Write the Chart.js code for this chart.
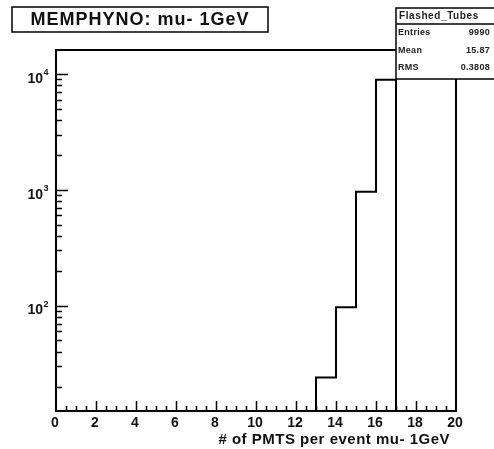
<!DOCTYPE html>
<html>
<head>
<meta charset="utf-8">
<title>Flashed_Tubes</title>
<script src="https://cdn.jsdelivr.net/npm/chart.js@4.4.0/dist/chart.umd.min.js"></script>
<style>
  html, body { margin: 0; padding: 0; background: #fff; }
  canvas { display: block; }
</style>
</head>
<body>
<canvas id="pmtChart" width="494" height="449"></canvas>
<script>
// 20 unit-width bins from 0 to 20
const binLow = [0, 1, 2, 3, 4, 5, 6, 7, 8, 9, 10, 11, 12, 13, 14, 15, 16, 17, 18, 19];
const binCounts = [0, 0, 0, 0, 0, 0, 0, 0, 0, 0, 0, 0, 0, 24, 97, 960, 8909, 0, 0, 0];
const xTickValues = [0, 2, 4, 6, 8, 10, 12, 14, 16, 18, 20];
const yDecades = [100, 1000, 10000];
const yExponents = ['2', '3', '4'];
const statNames = ['Entries', 'Mean', 'RMS'];
const statValues = ['9990', '15.87', '0.3808'];

const yMin = 12.3;
const yMax = 16100;
const FONT = '"Liberation Sans", Arial, Helvetica, sans-serif';

// step outline of the histogram, empty bins sit on the axis
const outline = binLow.map((x, i) => ({ x: x, y: Math.max(binCounts[i], yMin) }));
outline.push({ x: 20, y: outline[outline.length - 1].y });

const rootFrame = {
  id: 'rootFrame',
  afterDraw(chart) {
    const { ctx, chartArea: a, scales: { x, y } } = chart;
    ctx.save();
    ctx.strokeStyle = '#000';
    ctx.fillStyle = '#111';

    // frame
    ctx.lineWidth = 2;
    ctx.strokeRect(a.left, a.top, a.right - a.left, a.bottom - a.top);

    // x ticks every 0.5, long ones every 2
    ctx.lineWidth = 1.5;
    ctx.beginPath();
    for (let v = 0.5; v < 20; v += 0.5) {
      const px = Math.round(x.getPixelForValue(v)) + 0.5;
      const len = v % 2 === 0 ? 10 : 5;
      ctx.moveTo(px, a.bottom);
      ctx.lineTo(px, a.bottom - len);
    }
    // y ticks on the log scale
    [10, 100, 1000, 10000].forEach(d => {
      for (let k = 1; k <= 9; k++) {
        const v = k * d;
        if (v <= yMin || v >= yMax) continue;
        const py = Math.round(y.getPixelForValue(v)) + 0.5;
        const len = k === 1 ? 12 : 6;
        ctx.moveTo(a.left, py);
        ctx.lineTo(a.left + len, py);
      }
    });
    ctx.stroke();

    // x labels
    ctx.font = 'bold 14px ' + FONT;
    ctx.textAlign = 'center';
    ctx.textBaseline = 'middle';
    xTickValues.forEach(v => {
      ctx.fillText(String(v), x.getPixelForValue(v) - 1, a.bottom + 12);
    });

    // y labels: 10 with exponent
    yDecades.forEach((d, i) => {
      const py = y.getPixelForValue(d);
      ctx.font = 'bold 14px ' + FONT;
      ctx.textAlign = 'right';
      ctx.fillText('10', a.left - 13, py + 5);
      ctx.font = 'bold 9px ' + FONT;
      ctx.textAlign = 'left';
      ctx.fillText(yExponents[i], a.left - 12.5, py - 1);
    });

    // x axis title
    ctx.font = 'bold 15px ' + FONT;
    ctx.letterSpacing = '0.5px';
    ctx.textAlign = 'right';
    ctx.fillText('# of PMTS per event mu- 1GeV', a.right - 6, a.bottom + 29);

    // title box
    ctx.fillStyle = '#fff';
    ctx.fillRect(12, 7, 256, 25);
    ctx.lineWidth = 1.5;
    ctx.strokeRect(12, 7, 256, 25);
    ctx.fillStyle = '#111';
    ctx.font = 'bold 18px ' + FONT;
    ctx.letterSpacing = '1px';
    ctx.textAlign = 'center';
    ctx.fillText('MEMPHYNO: mu- 1GeV', 140, 20);

    // statistics box
    ctx.fillStyle = '#fff';
    ctx.fillRect(396, 8, 110, 71);
    ctx.strokeRect(396, 8, 110, 71);
    ctx.beginPath();
    ctx.moveTo(396, 24);
    ctx.lineTo(494, 24);
    ctx.stroke();
    ctx.fillStyle = '#222';
    ctx.font = 'bold 10px ' + FONT;
    ctx.letterSpacing = '0.6px';
    ctx.textAlign = 'left';
    ctx.fillText('Flashed_Tubes', 399, 16);
    ctx.font = 'bold 9px ' + FONT;
    ctx.letterSpacing = '0.3px';
    const rowY = [33, 51, 68];
    statNames.forEach((n, i) => {
      ctx.textAlign = 'left';
      ctx.fillText(n, 398, rowY[i]);
      ctx.textAlign = 'right';
      ctx.fillText(statValues[i], 490, rowY[i]);
    });
    ctx.restore();
  }
};

new Chart(document.getElementById('pmtChart'), {
  type: 'line',
  data: {
    datasets: [{
      label: 'Flashed_Tubes',
      data: outline,
      stepped: 'before',
      borderColor: '#000',
      borderWidth: 2,
      pointRadius: 0,
      fill: false
    }]
  },
  options: {
    responsive: false,
    animation: false,
    layout: { padding: { left: 56, top: 50, right: 38, bottom: 38 } },
    plugins: {
      legend: { display: false },
      tooltip: { enabled: false }
    },
    scales: {
      x: { type: 'linear', min: 0, max: 20, display: false },
      y: { type: 'logarithmic', min: yMin, max: yMax, display: false }
    }
  },
  plugins: [rootFrame]
});
</script>
</body>
</html>
